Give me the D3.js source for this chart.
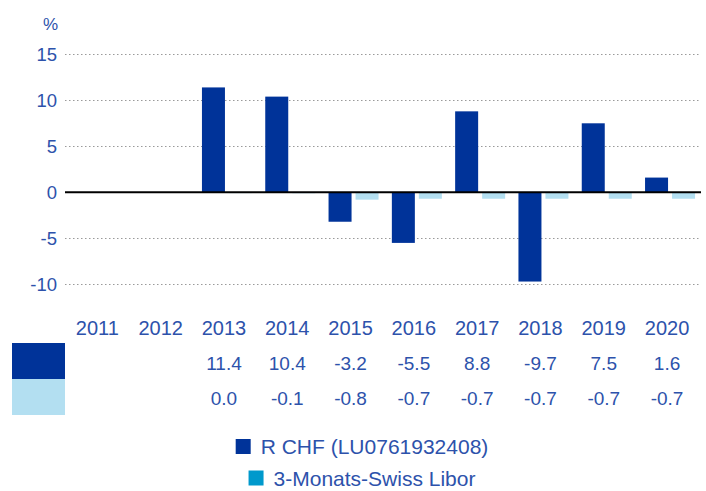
<!DOCTYPE html>
<html><head><meta charset="utf-8">
<script src="https://cdn.jsdelivr.net/npm/d3@7"></script>
<style>
html,body{margin:0;padding:0;background:#fff;}
svg text{font-family:"Liberation Sans",Arial,sans-serif;fill:#2d52ab;}
</style></head>
<body><svg id="c" width="706" height="491"></svg>
<script>
const years = ["2011","2012","2013","2014","2015","2016","2017","2018","2019","2020"];
const fund = [null,null,11.4,10.4,-3.2,-5.5,8.8,-9.7,7.5,1.6];
const libor = [null,null,0.0,-0.1,-0.8,-0.7,-0.7,-0.7,-0.7,-0.7];
const yTicks = [15,10,5,0,-5,-10];
const seriesNames = ["R CHF (LU0761932408)","3-Monats-Swiss Libor"];
const barColors = ["#003399","#b3dff1"];
const legendColors = ["#003399","#0099cc"];

const svg = d3.select("#c");
const plotL = 65, plotR = 701;
const x = d3.scaleBand().domain(years).range([68.7, 701.7]).paddingInner(0).paddingOuter(0);
const y = d3.scaleLinear().domain([-10,15]).range([284.3,54.3]);

// gridlines
svg.append("g").selectAll("line").data(yTicks.filter(d=>d!==0)).join("line")
  .attr("x1",plotL).attr("x2",plotR).attr("y1",d=>Math.round(y(d))+0.5).attr("y2",d=>Math.round(y(d))+0.5)
  .attr("stroke","#9a9a9a").attr("stroke-width",1.2).attr("stroke-dasharray","1.5,2.5");

// y labels
svg.append("g").selectAll("text").data(yTicks).join("text")
  .attr("x",57).attr("y",d=>y(d)).attr("dy","0.36em").attr("text-anchor","end")
  .attr("font-size",18.5).text(d=>d);
svg.append("text").attr("x",58).attr("y",24).attr("dy","0.36em").attr("text-anchor","end")
  .attr("font-size",17).text("%");

const bw = 23, gap = 4;
const g = svg.append("g");
const sers = [fund, libor];
sers.forEach((s,si)=>{
  g.selectAll(null).data(years.map((yr,i)=>({yr,v:s[i]})).filter(d=>d.v!==null)).join("rect")
    .attr("x",d=>x(d.yr)+x.bandwidth()/2 - bw - gap/2 + si*(bw+gap))
    .attr("width",bw)
    .attr("y",d=>d.v>=0 ? y(d.v) : y(0))
    .attr("height",d=>Math.max(Math.abs(y(d.v)-y(0)), d.v===0?0.8:0))
    .attr("fill",barColors[si]);
});
// zero line
svg.append("line").attr("x1",plotL).attr("x2",plotR).attr("y1",y(0)).attr("y2",y(0))
  .attr("stroke","#000").attr("stroke-width",2);

// table
const off = -3;
svg.append("g").selectAll("text").data(years).join("text")
  .attr("x",d=>x(d)+x.bandwidth()/2+off).attr("y",328).attr("dy","0.36em")
  .attr("text-anchor","middle").attr("font-size",20).text(d=>d);
const rowY = [363, 398];
sers.forEach((s,si)=>{
  svg.append("rect").attr("x",12).attr("y",si===0?343:379).attr("width",53).attr("height",36)
    .attr("fill",barColors[si]);
  svg.append("g").selectAll("text").data(years.map((yr,i)=>({yr,v:s[i]})).filter(d=>d.v!==null)).join("text")
    .attr("x",d=>x(d.yr)+x.bandwidth()/2+off).attr("y",rowY[si]).attr("dy","0.36em")
    .attr("text-anchor","middle").attr("font-size",19).text(d=>d.v.toFixed(1));
});

// legend
const legY = [446.5, 478];
const cx = 362;
seriesNames.forEach((n,i)=>{
  const lg = svg.append("g");
  const t = lg.append("text").attr("x",0).attr("y",legY[i]).attr("dy","0.36em")
    .attr("font-size",21).text(n);
  const tw = t.node().getComputedTextLength();
  const total = 15 + 10 + tw;
  const x0 = cx - total/2;
  lg.append("rect").attr("x",x0).attr("y",legY[i]-7.5).attr("width",15).attr("height",15).attr("fill",legendColors[i]);
  t.attr("x",x0+25);
});
</script></body></html>
